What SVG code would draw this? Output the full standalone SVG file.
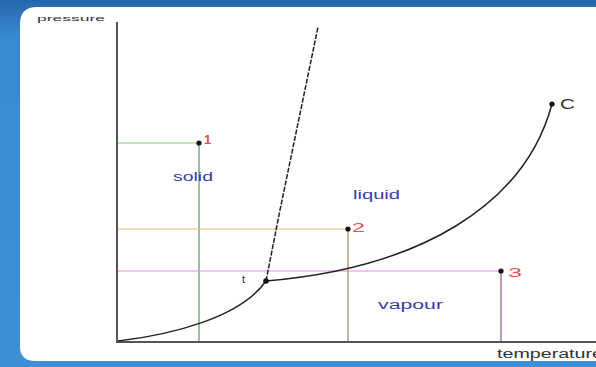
<svg xmlns="http://www.w3.org/2000/svg" width="596" height="367" viewBox="0 0 596 367">
<defs>
<linearGradient id="bg" x1="0" y1="0" x2="0" y2="1">
<stop offset="0" stop-color="#2466ad"/>
<stop offset="0.1" stop-color="#3a8ad2"/>
<stop offset="1" stop-color="#3d8fd6"/>
</linearGradient>
<style>
.axis{stroke:#555;stroke-width:2;fill:none}
.curve{stroke:#222;stroke-width:1.5;fill:none}
.phase{font-family:"Liberation Sans",Arial,sans-serif;font-size:12px;fill:#3a3ab0}
.num{font-family:"Liberation Sans",Arial,sans-serif;font-size:13px;fill:#e25050}
.ax{font-family:"Liberation Sans",Arial,sans-serif;fill:#333}
.dot{fill:#111}
</style>
</defs>
<rect width="596" height="367" fill="url(#bg)"/>
<path d="M20,24 Q20,7 37,7 L596,7 L596,361 L35,361 Q20,361 20,346 Z" fill="#fff"/>
<g id="axes">
<line class="axis" x1="117" y1="22" x2="117" y2="342"/>
<line class="axis" x1="116" y1="342" x2="596" y2="342"/>
<text class="ax" x="37" y="21" font-size="8" textLength="68" lengthAdjust="spacingAndGlyphs">pressure</text>
<text class="ax" x="497" y="358" font-size="12" textLength="106" lengthAdjust="spacingAndGlyphs">temperature</text>
</g>
<g id="guides">
<line x1="118" y1="143" x2="199" y2="143" stroke="#7fd07f" stroke-width="1.2"/>
<line x1="199" y1="143" x2="199" y2="341" stroke="#4f9a5f" stroke-width="1.2"/>
<line x1="118" y1="229" x2="348" y2="229" stroke="#f2b47a" stroke-width="1.2"/>
<line x1="348" y1="229" x2="348" y2="341" stroke="#9a8a50" stroke-width="1.2"/>
<line x1="118" y1="271" x2="501" y2="271" stroke="#e38de3" stroke-width="1.2"/>
<line x1="501" y1="271" x2="501" y2="341" stroke="#8a5a8a" stroke-width="1.2"/>
</g>
<g id="curves">
<path class="curve" d="M118,341 C170,335 240,318 266,281"/>
<path class="curve" d="M266,281 C420,268 525,205 552,104"/>
<path class="curve" stroke-dasharray="5 1.5" d="M266,281 L280,210 L318,27"/>
</g>
<g id="point1"><circle class="dot" cx="199" cy="143" r="2.6"/><text class="num" x="204" y="144" font-weight="bold">1</text></g>
<g id="point2"><circle class="dot" cx="348" cy="229" r="2.6"/><text class="num" x="352" y="232" textLength="13" lengthAdjust="spacingAndGlyphs">2</text></g>
<g id="point3"><circle class="dot" cx="501" cy="271" r="2.6"/><text class="num" x="508" y="277" textLength="14" lengthAdjust="spacingAndGlyphs">3</text></g>
<g id="triple"><circle class="dot" cx="266" cy="281" r="2.8"/><text class="ax" x="242" y="283" font-size="11">t</text></g>
<g id="critical"><circle class="dot" cx="552" cy="104" r="2.6"/><text class="ax" x="560" y="109" font-size="14" fill="#555" textLength="15" lengthAdjust="spacingAndGlyphs">C</text></g>
<g id="labels">
<text class="phase" x="173" y="181" textLength="40" lengthAdjust="spacingAndGlyphs">solid</text>
<text class="phase" x="353" y="199" textLength="47" lengthAdjust="spacingAndGlyphs">liquid</text>
<text class="phase" x="378" y="309" textLength="65" lengthAdjust="spacingAndGlyphs">vapour</text>
</g>
</svg>
